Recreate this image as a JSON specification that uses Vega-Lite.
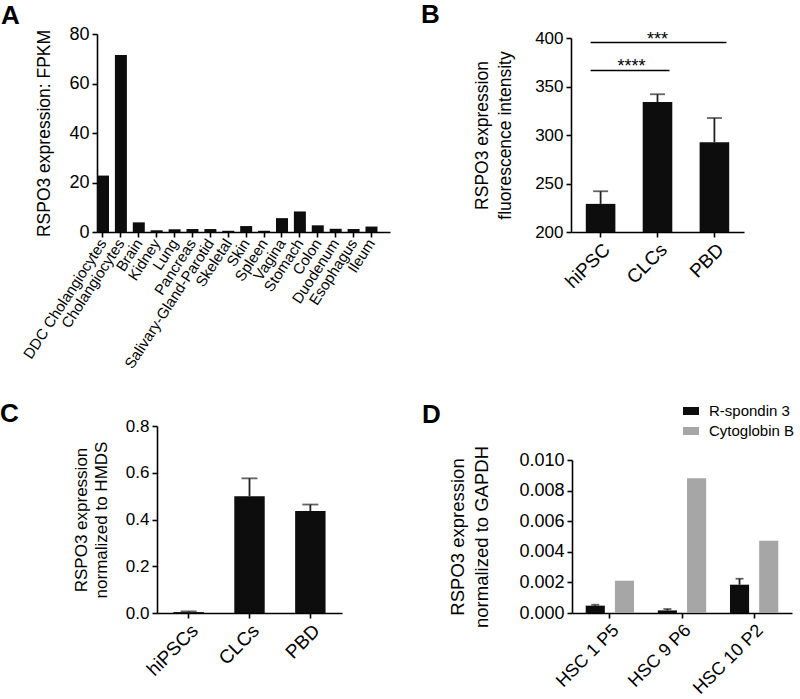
{
  "$schema": "https://vega.github.io/schema/vega-lite/v6.json",
  "padding": {"left": 0, "top": 2, "right": 0, "bottom": 0},
  "background": "white",
  "spacing": 30,
  "config": {
    "font": "Liberation Sans",
    "view": {"stroke": null},
    "axis": {
      "domainColor": "#000", "domainWidth": 1.6, "tickColor": "#000", "tickWidth": 1.6, "tickSize": 5,
      "labelColor": "#000", "titleColor": "#000", "labelFontSize": 18, "titleFontSize": 17.5,
      "titleFontWeight": "normal", "grid": false, "labelPadding": 3, "titleLineHeight": 23
    },
    "title": {"fontSize": 26, "fontWeight": "bold", "anchor": "start", "frame": "group", "offset": 0, "color": "#000"},
    "legend": {"labelFontSize": 15, "labelColor": "#000"}
  },
  "vconcat": [
    {
      "columns": 2,
      "align": "none",
      "spacing": 31,
      "concat": [
        {
          "title": {"text": "A", "dx": -96, "dy": 8, "anchor": "start", "frame": "group"},
          "width": 293, "height": 198,
          "data": {"values": [
            {"tissue": "DDC Cholangiocytes", "fpkm": 22.8},
            {"tissue": "Cholangiocytes", "fpkm": 71.5},
            {"tissue": "Brain", "fpkm": 3.9},
            {"tissue": "Kidney", "fpkm": 0.7},
            {"tissue": "Lung", "fpkm": 1.1},
            {"tissue": "Pancreas", "fpkm": 1.2},
            {"tissue": "Salivary-Gland-Parotid", "fpkm": 1.2},
            {"tissue": "Skeletal", "fpkm": 0.5},
            {"tissue": "Skin", "fpkm": 2.4},
            {"tissue": "Spleen", "fpkm": 0.5},
            {"tissue": "Vagina", "fpkm": 5.6},
            {"tissue": "Stomach", "fpkm": 8.3},
            {"tissue": "Colon", "fpkm": 2.7},
            {"tissue": "Duodenum", "fpkm": 1.3},
            {"tissue": "Esophagus", "fpkm": 1.2},
            {"tissue": "Ileum", "fpkm": 2.2}
          ]},
          "mark": {"type": "bar", "color": "#0d0d0d"},
          "encoding": {
            "x": {"field": "tissue", "type": "nominal", "sort": null,
                  "scale": {"paddingInner": 0.33, "paddingOuter": 0.35, "align": 0},
                  "axis": {"title": null, "labelAngle": -57, "labelFontSize": 15}},
            "y": {"field": "fpkm", "type": "quantitative", "scale": {"domain": [0, 80]},
                  "axis": {"values": [0, 20, 40, 60, 80], "title": "RSPO3 expression: FPKM", "titlePadding": 15}}
          }
        },
        {
          "title": {"text": "B", "dx": -150, "dy": 3, "anchor": "start", "frame": "group"},
          "width": 173, "height": 198,
          "resolve": {"axis": {"x": "independent", "y": "independent"}},
          "layer": [
            {
              "data": {"values": [
                {"group": "hiPSC", "mean": 229, "upper": 242},
                {"group": "CLCs", "mean": 334, "upper": 342},
                {"group": "PBD", "mean": 292.5, "upper": 317.5}
              ]},
              "resolve": {"axis": {"x": "independent", "y": "independent"}},
              "layer": [
                {
                  "mark": {"type": "bar", "color": "#0d0d0d"},
                  "encoding": {
                    "x": {"field": "group", "type": "nominal", "scale": {"domain": ["hiPSC", "CLCs", "PBD"], "paddingInner": 0.48, "paddingOuter": 0.26},
                          "axis": {"title": null, "labelAngle": -45, "labelFontSize": 19}},
                    "y": {"field": "mean", "type": "quantitative", "scale": {"domain": [200, 400], "zero": false, "nice": false, "range": [198, 4]},
                          "axis": {"values": [200, 250, 300, 350, 400], "title": ["RSPO3 expression", "fluorescence intensity"], "titlePadding": 20, "labelFontSize": 17}},
                    "y2": {"datum": 200}
                  }
                },
                {
                  "mark": {"type": "rule", "color": "#222", "strokeWidth": 1.8},
                  "encoding": {
                    "x": {"field": "group", "type": "nominal", "axis": null},
                    "y": {"field": "mean", "type": "quantitative", "axis": null},
                    "y2": {"field": "upper"}
                  }
                },
                {
                  "mark": {"type": "tick", "color": "#222", "thickness": 1.8, "size": 15, "orient": "horizontal"},
                  "encoding": {
                    "x": {"field": "group", "type": "nominal", "axis": null},
                    "y": {"field": "upper", "type": "quantitative", "axis": null}
                  }
                }
              ]
            },
            {
              "data": {"values": [
                {"from": "hiPSC", "to": "PBD", "level": 395.3},
                {"from": "hiPSC", "to": "CLCs", "level": 366.5}
              ]},
              "mark": {"type": "rule", "color": "#000", "strokeWidth": 1.6, "xOffset": -10, "x2Offset": 12},
              "encoding": {
                "x": {"field": "from", "type": "nominal", "axis": null},
                "x2": {"field": "to"},
                "y": {"field": "level", "type": "quantitative", "axis": null}
              }
            },
            {
              "data": {"values": [{"at": "CLCs", "level": 395.3, "label": "***"}]},
              "mark": {"type": "text", "fontSize": 18, "baseline": "alphabetic", "dy": 2, "color": "#000"},
              "encoding": {
                "x": {"field": "at", "type": "nominal", "axis": null},
                "y": {"field": "level", "type": "quantitative", "axis": null},
                "text": {"field": "label"}
              }
            },
            {
              "data": {"values": [{"at": "CLCs", "level": 366.5, "label": "****"}]},
              "mark": {"type": "text", "fontSize": 18, "baseline": "alphabetic", "dy": 2, "dx": -26, "color": "#000"},
              "encoding": {
                "x": {"field": "at", "type": "nominal", "axis": null},
                "y": {"field": "level", "type": "quantitative", "axis": null},
                "text": {"field": "label"}
              }
            }
          ]
        }
      ]
    },
    {
      "columns": 2,
      "align": "none",
      "spacing": 80,
      "resolve": {"scale": {"color": "independent"}, "legend": {"color": "independent"}},
      "concat": [
        {
          "title": {"text": "C", "dx": -97, "dy": 14, "anchor": "start", "frame": "group"},
          "width": 245, "height": 187,
          "data": {"values": [
            {"group": "hiPSCs", "mean": 0.004, "upper": 0.007},
            {"group": "CLCs", "mean": 0.5, "upper": 0.576},
            {"group": "PBD", "mean": 0.436, "upper": 0.464}
          ]},
          "resolve": {"axis": {"x": "independent", "y": "independent"}},
          "layer": [
            {
              "mark": {"type": "bar", "color": "#0d0d0d"},
              "encoding": {
                "x": {"field": "group", "type": "nominal", "scale": {"domain": ["hiPSCs", "CLCs", "PBD"], "paddingInner": 0.5, "paddingOuter": 0.27, "range": [60, 245]},
                      "axis": {"title": null, "labelAngle": -45, "labelFontSize": 19}},
                "y": {"field": "mean", "type": "quantitative", "scale": {"domain": [0, 0.8]},
                      "axis": {"values": [0, 0.2, 0.4, 0.6, 0.8], "format": ".1f", "offset": -60, "title": ["RSPO3 expression", "normalized to HMDS"], "titlePadding": 14.5, "labelFontSize": 17, "titleFontSize": 17, "titleLineHeight": 20.5}}
              }
            },
            {
              "mark": {"type": "rule", "color": "#222", "strokeWidth": 1.8},
              "encoding": {
                "x": {"field": "group", "type": "nominal", "axis": null},
                "y": {"field": "mean", "type": "quantitative", "axis": null},
                "y2": {"field": "upper"}
              }
            },
            {
              "mark": {"type": "tick", "color": "#222", "thickness": 1.8, "size": 16, "orient": "horizontal"},
              "encoding": {
                "x": {"field": "group", "type": "nominal", "axis": null},
                "y": {"field": "upper", "type": "quantitative", "axis": null}
              }
            }
          ]
        },
        {
          "title": {"text": "D", "dx": -150, "dy": 29, "anchor": "start", "frame": "group"},
          "width": 220, "height": 187,
          "data": {"values": [
            {"sample": "HSC 1 P5", "gene": "R-spondin 3", "mean": 0.00048, "upper": 0.00054},
            {"sample": "HSC 1 P5", "gene": "Cytoglobin B", "mean": 0.00211},
            {"sample": "HSC 9 P6", "gene": "R-spondin 3", "mean": 0.00017, "upper": 0.00026},
            {"sample": "HSC 9 P6", "gene": "Cytoglobin B", "mean": 0.0088},
            {"sample": "HSC 10 P2", "gene": "R-spondin 3", "mean": 0.00185, "upper": 0.00224},
            {"sample": "HSC 10 P2", "gene": "Cytoglobin B", "mean": 0.00472}
          ]},
          "resolve": {"axis": {"x": "independent", "y": "independent"}},
          "layer": [
            {
              "mark": {"type": "bar"},
              "encoding": {
                "x": {"field": "sample", "type": "nominal", "scale": {"domain": ["HSC 1 P5", "HSC 9 P6", "HSC 10 P2"], "paddingInner": 0.33, "paddingOuter": 0.19},
                      "axis": {"title": null, "labelAngle": -45, "labelFontSize": 18}},
                "xOffset": {"field": "gene", "type": "nominal", "scale": {"domain": ["R-spondin 3", "Cytoglobin B"], "paddingInner": 0.345, "paddingOuter": 0}},
                "y": {"field": "mean", "type": "quantitative", "scale": {"domain": [0, 0.01], "nice": false, "range": [187, 34]},
                      "axis": {"values": [0, 0.002, 0.004, 0.006, 0.008, 0.01], "format": ".3f", "labelOverlap": false, "title": ["RSPO3 expression", "normalized to GAPDH"], "titlePadding": 27, "titleFontSize": 18.5, "titleLineHeight": 24.5}},
                "color": {"field": "gene", "type": "nominal",
                          "scale": {"domain": ["R-spondin 3", "Cytoglobin B"], "range": ["#0d0d0d", "#a6a6a6"]},
                          "legend": {"title": null, "orient": "none", "legendX": 111, "legendY": -23, "symbolType": "M-1,-0.5H1V0.5H-1Z", "symbolSize": 256, "symbolStrokeWidth": 0, "rowPadding": 4, "labelOffset": 10, "padding": 0}}
              }
            },
            {
              "transform": [{"filter": "datum.upper != null"}],
              "mark": {"type": "rule", "color": "#222", "strokeWidth": 1.8},
              "encoding": {
                "x": {"field": "sample", "type": "nominal", "axis": null},
                "xOffset": {"field": "gene", "type": "nominal"},
                "y": {"field": "mean", "type": "quantitative", "axis": null},
                "y2": {"field": "upper"}
              }
            },
            {
              "transform": [{"filter": "datum.upper != null"}],
              "mark": {"type": "tick", "color": "#222", "thickness": 1.8, "size": 8, "orient": "horizontal"},
              "encoding": {
                "x": {"field": "sample", "type": "nominal", "axis": null},
                "xOffset": {"field": "gene", "type": "nominal"},
                "y": {"field": "upper", "type": "quantitative", "axis": null}
              }
            }
          ]
        }
      ]
    }
  ]
}
